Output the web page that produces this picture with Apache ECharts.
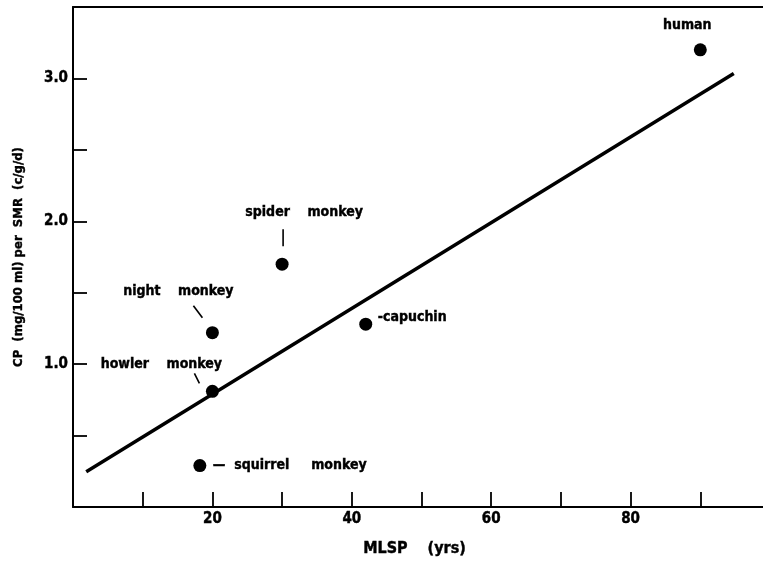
<!DOCTYPE html>
<html>
<head>
<meta charset="utf-8">
<script src="https://cdn.jsdelivr.net/npm/echarts@6/dist/echarts.min.js"></script>
<style>
  html, body { margin: 0; padding: 0; background: #fff; }
  #chart { width: 763px; height: 564px; }
</style>
</head>
<body>
<div id="chart"></div>
<script>
// Primate species: maximum lifespan potential vs. CP per standard metabolic rate
const species = ['human', 'spider monkey', 'night monkey', 'howler monkey', 'capuchin', 'squirrel monkey'];
const mlsp = [90, 30, 20, 20, 42, 18.2];
const cpPerSmr = [3.20, 1.70, 1.22, 0.81, 1.28, 0.29];

// Fitted regression line endpoints
const fitX = [1.9, 94.8];
const fitY = [0.246, 3.035];

// Labelled axis ticks
const xTickLabels = [20, 40, 60, 80];
const yTickLabels = [1, 2, 3];

const FONT = '"DejaVu Sans Condensed", "DejaVu Sans", sans-serif';
const INK = '#000';
const TEXT = { color: INK, fontFamily: FONT, fontWeight: 'bold', textBorderColor: INK, textBorderWidth: 0.4 };

// Label placement around each dot (pixel offsets from the dot centre)
const labelStyle = {
  'human':           { text: 'human',                        align: 'center', offset: [-13, -24] },
  'spider monkey':   { text: 'spider    monkey',             align: 'center', offset: [22, -52] },
  'night monkey':    { text: 'night    monkey',              align: 'center', offset: [-34, -41] },
  'howler monkey':   { text: 'howler    monkey',             align: 'center', offset: [-51, -27] },
  'capuchin':        { text: '-capuchin',                    align: 'left',   offset: [12, -7] },
  'squirrel monkey': { text: '\u2014  squirrel     monkey',  align: 'left',   offset: [13, 0] }
};

// Short leader strokes between a label and its dot (pixel offsets from the dot centre)
const leaders = {
  'spider monkey': [[1, -35], [1, -18]],
  'night monkey':  [[-19, -27], [-10, -15]],
  'howler monkey': [[-18, -18], [-13, -8]]
};

const points = species.map((name, i) => {
  const ls = labelStyle[name];
  return {
    name: name,
    value: [mlsp[i], cpPerSmr[i]],
    label: Object.assign({
      show: true,
      position: 'inside',
      formatter: ls.text,
      align: ls.align,
      verticalAlign: 'middle',
      offset: ls.offset,
      fontSize: 14
    }, TEXT)
  };
});

const leaderData = species
  .map((name, i) => ({ name: name, value: [mlsp[i], cpPerSmr[i]] }))
  .filter(d => leaders[d.name]);

const chart = echarts.init(document.getElementById('chart'), null, { renderer: 'canvas' });

chart.setOption({
  animation: false,
  backgroundColor: '#fff',
  grid: { left: 73, width: 697, top: 7, bottom: 57, containLabel: false, outerBoundsMode: 'none' },
  xAxis: [
    {
      type: 'value',
      position: 'bottom',
      min: 0, max: 100, interval: 10,
      name: 'MLSP    (yrs)',
      nameLocation: 'middle',
      nameGap: 34,
      nameTextStyle: Object.assign({ fontSize: 16, padding: [0, 14, 0, 0] }, TEXT),
      axisLine: { show: true, lineStyle: { color: INK, width: 2 } },
      axisTick: { show: true, inside: true, length: 15, lineStyle: { color: INK, width: 1.8 } },
      axisLabel: Object.assign({
        margin: 5,
        fontSize: 15,
        formatter: v => (xTickLabels.indexOf(v) >= 0 ? String(v) : '')
      }, TEXT),
      splitLine: { show: false }
    },
    {
      type: 'value',
      position: 'top',
      min: 0, max: 100,
      axisLine: { show: true, lineStyle: { color: INK, width: 2 } },
      axisTick: { show: false },
      axisLabel: { show: false },
      splitLine: { show: false }
    }
  ],
  yAxis: {
    type: 'value',
    min: 0, max: 3.5, interval: 0.5,
    name: 'CP  (mg/100 ml) per  SMR  (c/g/d)',
    nameLocation: 'middle',
    nameGap: 48,
    nameRotate: 90,
    nameTextStyle: Object.assign({ fontSize: 13 }, TEXT),
    axisLine: { show: true, lineStyle: { color: INK, width: 2 } },
    axisTick: { show: true, inside: true, length: 14, lineStyle: { color: INK, width: 1.8 } },
    axisLabel: Object.assign({
      margin: 5,
      fontSize: 15,
      formatter: v => (yTickLabels.indexOf(v) >= 0 ? v.toFixed(1) : '')
    }, TEXT),
    splitLine: { show: false }
  },
  series: [
    {
      name: 'regression',
      type: 'line',
      data: fitX.map((x, i) => [x, fitY[i]]),
      showSymbol: false,
      symbol: 'none',
      lineStyle: { color: INK, width: 3.5, opacity: 1 },
      z: 2
    },
    {
      name: 'species',
      type: 'scatter',
      data: points,
      symbol: 'circle',
      symbolSize: 13,
      itemStyle: { color: INK, opacity: 1 },
      z: 3
    },
    {
      name: 'leaders',
      type: 'custom',
      data: leaderData,
      renderItem: function (params, api) {
        const p = api.coord([api.value(0), api.value(1)]);
        const seg = leaders[leaderData[params.dataIndex].name];
        return {
          type: 'line',
          shape: {
            x1: p[0] + seg[0][0], y1: p[1] + seg[0][1],
            x2: p[0] + seg[1][0], y2: p[1] + seg[1][1]
          },
          style: { stroke: INK, lineWidth: 1.6 }
        };
      },
      z: 3
    }
  ]
});
</script>
</body>
</html>
